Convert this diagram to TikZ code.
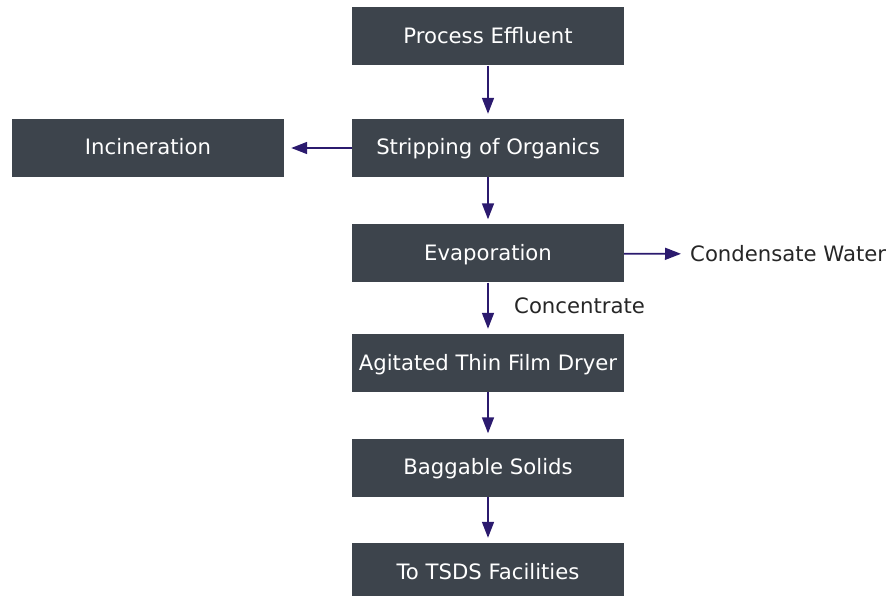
\documentclass[tikz,border=0pt]{standalone}
\usepackage{fontspec}
\setmainfont{DejaVu Sans}
\usetikzlibrary{arrows.meta}
\definecolor{boxfill}{HTML}{3D444C}
\definecolor{flow}{HTML}{2B1A6E}
\begin{document}
\begin{tikzpicture}[x=1pt,y=-1pt,
  stage/.style={fill=boxfill,text=white,minimum width=272pt,minimum height=58pt,
    inner sep=0pt,text height=18.5pt,text depth=4.5pt,
    font=\fontsize{21.2}{24}\selectfont,anchor=center},
  lbl/.style={text=black!85,inner sep=0pt,font=\fontsize{21.2}{24}\selectfont},
  flowline/.style={draw=flow,line width=1.6pt,-{Triangle[length=16pt,width=12pt]},shorten >=5pt}]
\useasboundingbox (0,0) rectangle (892,596);
\clip (0,0) rectangle (892,596);
\node[stage] (pe)  at (488,36.5)  {Process Effluent};
\node[stage] (so)  at (488,148)   {Stripping of Organics};
\node[stage] (inc) at (148,148)   {Incineration};
\node[stage] (ev)  at (488,253.5) {Evaporation};
\node[stage] (atf) at (488,363)   {Agitated Thin Film Dryer};
\node[stage] (bs)  at (488,467.5) {Baggable Solids};
\node[stage] (ts)  at (488,572)   {To TSDS Facilities};
\node[lbl,anchor=west] (cw) at (690,254) {Condensate Water};
\node[lbl,anchor=west] (cc) at (514,306) {Concentrate};
\draw[flowline] (pe) -- (so);
\draw[flowline,shorten >=7pt] (so) -- (inc);
\draw[flowline] (so) -- (ev);
\draw[flowline,shorten >=9pt] (ev) -- (cw);
\draw[flowline] (ev) -- (atf);
\draw[flowline] (atf) -- (bs);
\draw[flowline] (bs) -- (ts);
\end{tikzpicture}
\end{document}
